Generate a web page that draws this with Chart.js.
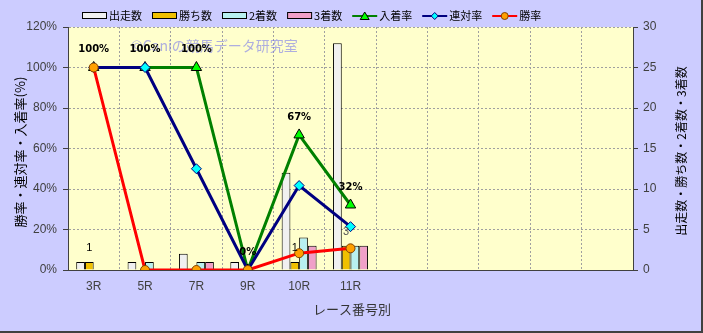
<!DOCTYPE html>
<html lang="ja">
<head>
<meta charset="UTF-8">
<title>レース番号別</title>
<script src="https://cdn.jsdelivr.net/npm/chart.js@4.4.0/dist/chart.umd.min.js"></script>
<style>
  html, body { margin: 0; padding: 0; background: #ccccff; }
  canvas { display: block; }
</style>
</head>
<body>
<canvas id="chart" width="703" height="333"></canvas>
<script>
// レース番号別 data
const races = ['3R', '5R', '7R', '9R', '10R', '11R', '', '', '', '', ''];
const starts = [1, 1, 2, 1, 12, 28];      // 出走数
const wins = [1, 0, 0, 0, 1, 3];          // 勝ち数
const seconds = [0, 1, 1, 0, 4, 3];       // 2着数
const thirds = [0, 0, 1, 0, 3, 3];        // 3着数
const showRate = [100, 100, 100, 0, 66.7, 32.1];   // 入着率
const top2Rate = [100, 100, 50, 0, 41.7, 21.4];    // 連対率
const winRate = [100, 0, 0, 0, 8.3, 10.7];         // 勝率
const pctTicks = [0, 20, 40, 60, 80, 100, 120];
const countTicks = [0, 5, 10, 15, 20, 25, 30];

const JP = '"Noto Sans CJK JP", sans-serif';

function marker(ctx, kind, x, y) {
  ctx.lineWidth = 1;
  if (kind === 'tri') {
    ctx.fillStyle = '#00ff00'; ctx.strokeStyle = '#000';
    ctx.beginPath(); ctx.moveTo(x, y - 4); ctx.lineTo(x + 4.5, y + 3.5); ctx.lineTo(x - 4.5, y + 3.5); ctx.closePath();
  } else if (kind === 'dia') {
    ctx.fillStyle = '#00ffff'; ctx.strokeStyle = '#000080';
    ctx.beginPath(); ctx.moveTo(x, y - 3.5); ctx.lineTo(x + 3.5, y); ctx.lineTo(x, y + 3.5); ctx.lineTo(x - 3.5, y); ctx.closePath();
  } else {
    ctx.fillStyle = '#ffa000'; ctx.strokeStyle = '#804000';
    ctx.beginPath(); ctx.arc(x, y, 3.5, 0, Math.PI * 2);
  }
  ctx.fill(); ctx.stroke();
}

const legendItems = [
  { text: '出走数', fill: '#f0f0f0' },
  { text: '勝ち数', fill: '#f0c000' },
  { text: '2着数', fill: '#b8f0f0' },
  { text: '3着数', fill: '#f0a0c8' },
  { text: '入着率', line: '#008000', mk: 'tri' },
  { text: '連対率', line: '#000080', mk: 'dia' },
  { text: '勝率', line: '#ff0000', mk: 'dot' }
];

const deco = {
  id: 'deco',
  beforeDraw(chart) {
    const { ctx, chartArea: a } = chart;
    ctx.save();
    ctx.fillStyle = '#ccccff';
    ctx.fillRect(0, 0, chart.width, chart.height);
    ctx.fillStyle = '#ffffcc';
    ctx.fillRect(a.left, a.top, a.right - a.left, a.bottom - a.top);
    ctx.restore();
  },
  beforeDatasetsDraw(chart) {
    const ctx = chart.ctx;
    ctx.save();
    ctx.font = '14px ' + JP;
    ctx.fillStyle = 'rgba(120,120,235,0.6)';
    ctx.textBaseline = 'middle';
    ctx.fillText('©Caniの競馬データ研究室', 131, 46);
    ctx.restore();
  },
  afterDatasetsDraw(chart) {
    const ctx = chart.ctx;
    ctx.save();
    ctx.textAlign = 'center';
    ctx.textBaseline = 'middle';
    ctx.font = 'bold 10px "DejaVu Sans", sans-serif';
    ctx.fillStyle = '#000';
    chart.getDatasetMeta(4).data.forEach((p, i) => {
      if (showRate[i] == null) return;
      ctx.fillText(Math.round(showRate[i]) + '%', p.x, p.y - 18);
    });
    ctx.font = '11px "Liberation Sans", sans-serif';
    chart.getDatasetMeta(1).data.forEach((b, i) => {
      if (!wins[i]) return;
      ctx.fillStyle = wins[i] > 2 ? '#555' : '#000';
      ctx.fillText(String(wins[i]), b.x, b.y - 14);
    });
    ctx.restore();
  },
  afterDraw(chart) {
    const ctx = chart.ctx;
    ctx.save();
    // legend
    ctx.font = '11px ' + JP;
    ctx.textBaseline = 'middle';
    let x = 82;
    const y = 16;
    legendItems.forEach(it => {
      if (it.fill) {
        ctx.fillStyle = it.fill; ctx.strokeStyle = '#000'; ctx.lineWidth = 1;
        ctx.fillRect(x + 0.5, y - 3.5, 24, 6);
        ctx.strokeRect(x + 0.5, y - 3.5, 24, 6);
      } else {
        ctx.strokeStyle = it.line; ctx.lineWidth = 2;
        ctx.beginPath(); ctx.moveTo(x, y); ctx.lineTo(x + 25, y); ctx.stroke();
        marker(ctx, it.mk, x + 12.5, y);
      }
      ctx.fillStyle = '#000';
      ctx.fillText(it.text, x + 27, y);
      x += 27 + ctx.measureText(it.text).width + 10;
    });
    // axis titles
    ctx.fillStyle = '#000';
    ctx.textAlign = 'center';
    ctx.font = '13px ' + JP;
    ctx.save();
    ctx.translate(20, 152); ctx.rotate(-Math.PI / 2);
    ctx.fillText('勝率・連対率・入着率(%)', 0, 0);
    ctx.restore();
    ctx.font = '12px ' + JP;
    ctx.save();
    ctx.translate(681, 151); ctx.rotate(-Math.PI / 2);
    ctx.fillText('出走数・勝ち数・2着数・3着数', 0, 0);
    ctx.restore();
    ctx.fillStyle = '#333';
    ctx.font = '13px ' + JP;
    ctx.fillText('レース番号別', 352, 309);
    // outer frame shadow
    ctx.fillStyle = '#404040';
    ctx.fillRect(chart.width - 2, 0, 2, chart.height);
    ctx.fillRect(0, chart.height - 2, chart.width, 2);
    ctx.restore();
  }
};

function bar(label, data, color) {
  return {
    type: 'bar', label, data, yAxisID: 'y1', order: 10,
    backgroundColor: color, borderColor: '#000', borderWidth: 1,
    categoryPercentage: 0.68, barPercentage: 1
  };
}
function line(label, data, color, style, bg, border, r) {
  return {
    type: 'line', label, data, yAxisID: 'y', tension: 0,
    borderColor: color, borderWidth: 3,
    pointStyle: style, pointRadius: r, pointBackgroundColor: bg,
    pointBorderColor: border, pointBorderWidth: 1
  };
}

const tickFont = { family: '"Liberation Sans", sans-serif', size: 12 };

new Chart(document.getElementById('chart'), {
  data: {
    labels: races,
    datasets: [
      bar('出走数', starts, '#f0f0f0'),
      bar('勝ち数', wins, '#f0c000'),
      bar('2着数', seconds, '#b8f0f0'),
      bar('3着数', thirds, '#f0a0c8'),
      Object.assign(line('入着率', showRate, '#008000', 'triangle', '#00ff00', '#000', 6), { order: 3 }),
      Object.assign(line('連対率', top2Rate, '#000080', 'rectRot', '#00ffff', '#000080', 5), { order: 2 }),
      Object.assign(line('勝率', winRate, '#ff0000', 'circle', '#ffa000', '#804000', 4.5), { order: 1 })
    ]
  },
  options: {
    responsive: false,
    animation: false,
    layout: { padding: { top: 27, left: 0, right: 0, bottom: 0 } },
    plugins: { legend: { display: false }, tooltip: { enabled: false } },
    scales: {
      x: {
        offset: true,
        grid: { offset: true, color: '#a0a0a0', drawTicks: false },
        border: { color: '#404040', dash: [2, 2] },
        ticks: { color: '#404040', font: tickFont, padding: 9, maxRotation: 0, autoSkip: false },
        afterFit: s => { s.height = 63; }
      },
      y: {
        position: 'left',
        min: pctTicks[0], max: pctTicks[pctTicks.length - 1],
        ticks: { stepSize: pctTicks[1] - pctTicks[0], color: '#404040', font: tickFont, padding: 6,
                 callback: v => v + '%' },
        grid: { color: '#a0a0a0', tickLength: 5, tickColor: '#404040', tickBorderDash: [] },
        border: { color: '#404040', dash: [2, 2] },
        afterFit: s => { s.width = 68; }
      },
      y1: {
        position: 'right',
        min: countTicks[0], max: countTicks[countTicks.length - 1],
        ticks: { stepSize: countTicks[1] - countTicks[0], color: '#404040', font: tickFont, padding: 5 },
        grid: { drawOnChartArea: false, tickLength: 5, tickColor: '#404040' },
        border: { color: '#404040' },
        afterFit: s => { s.width = 70; }
      }
    }
  },
  plugins: [deco]
});
</script>
</body>
</html>
